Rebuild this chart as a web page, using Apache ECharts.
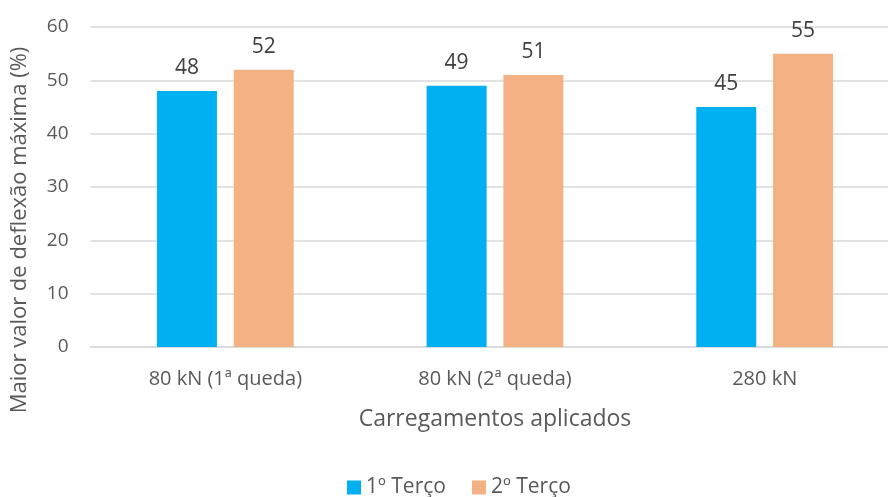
<!DOCTYPE html>
<html>
<head>
<meta charset="utf-8">
<script src="https://cdn.jsdelivr.net/npm/echarts@6/dist/echarts.min.js"></script>
<style>
html,body{margin:0;padding:0;background:#fff;}
#chart{width:888px;height:497px;}
</style>
</head>
<body>
<div id="chart"></div>
<script>
var categories = ['80 kN (1ª queda)', '80 kN (2ª queda)', '280 kN'];
var terco1 = [48, 49, 45];
var terco2 = [52, 51, 55];
var seriesNames = ['1º Terço', '2º Terço'];

var font = '"Open Sans", "Noto Sans", sans-serif';
var myChart = echarts.init(document.getElementById('chart'));
var option = {
    animation: false,
    textStyle: { fontFamily: font },
    grid: { left: 90.5, top: 27, width: 809, height: 320, outerBoundsMode: 'none' },
    legend: {
        top: 472,
        left: 342,
        itemWidth: 14,
        itemHeight: 14,
        itemGap: 26,
        icon: 'rect',
        textStyle: { fontSize: 21, color: '#595959', fontFamily: font },
        data: seriesNames
    },
    graphic: [{
        type: 'text',
        x: 20,
        y: 230,
        rotation: Math.PI / 2,
        style: {
            text: 'Maior valor de deflexão máxima (%)',
            fontSize: 22,
            fill: '#595959',
            fontFamily: font,
            align: 'center',
            verticalAlign: 'middle'
        }
    }],
    xAxis: {
        type: 'category',
        data: categories,
        name: 'Carregamentos aplicados',
        nameLocation: 'middle',
        nameGap: 61,
        nameTextStyle: { fontSize: 23, color: '#595959' },
        axisLine: { lineStyle: { color: '#d9d9d9', width: 1.5 } },
        axisTick: { show: false },
        axisLabel: { fontSize: 20, color: '#595959', margin: 22 }
    },
    yAxis: {
        type: 'value',
        min: 0,
        max: 60,
        interval: 10,
        axisLine: { show: false },
        axisTick: { show: false },
        axisLabel: { fontSize: 19, color: '#595959', margin: 22 },
        splitLine: { lineStyle: { color: '#d9d9d9', width: 1.5 } }
    },
    series: [{
        name: seriesNames[0],
        type: 'bar',
        data: terco1,
        barWidth: 60,
        barGap: '28%',
        itemStyle: { color: '#00B0F0' },
        label: { show: true, position: 'top', distance: 12, fontSize: 21, color: '#404040' }
    }, {
        name: seriesNames[1],
        type: 'bar',
        data: terco2,
        barWidth: 60,
        itemStyle: { color: '#F4B183' },
        label: { show: true, position: 'top', distance: 12, fontSize: 21, color: '#404040' }
    }]
};
myChart.setOption(option);
</script>
</body>
</html>
